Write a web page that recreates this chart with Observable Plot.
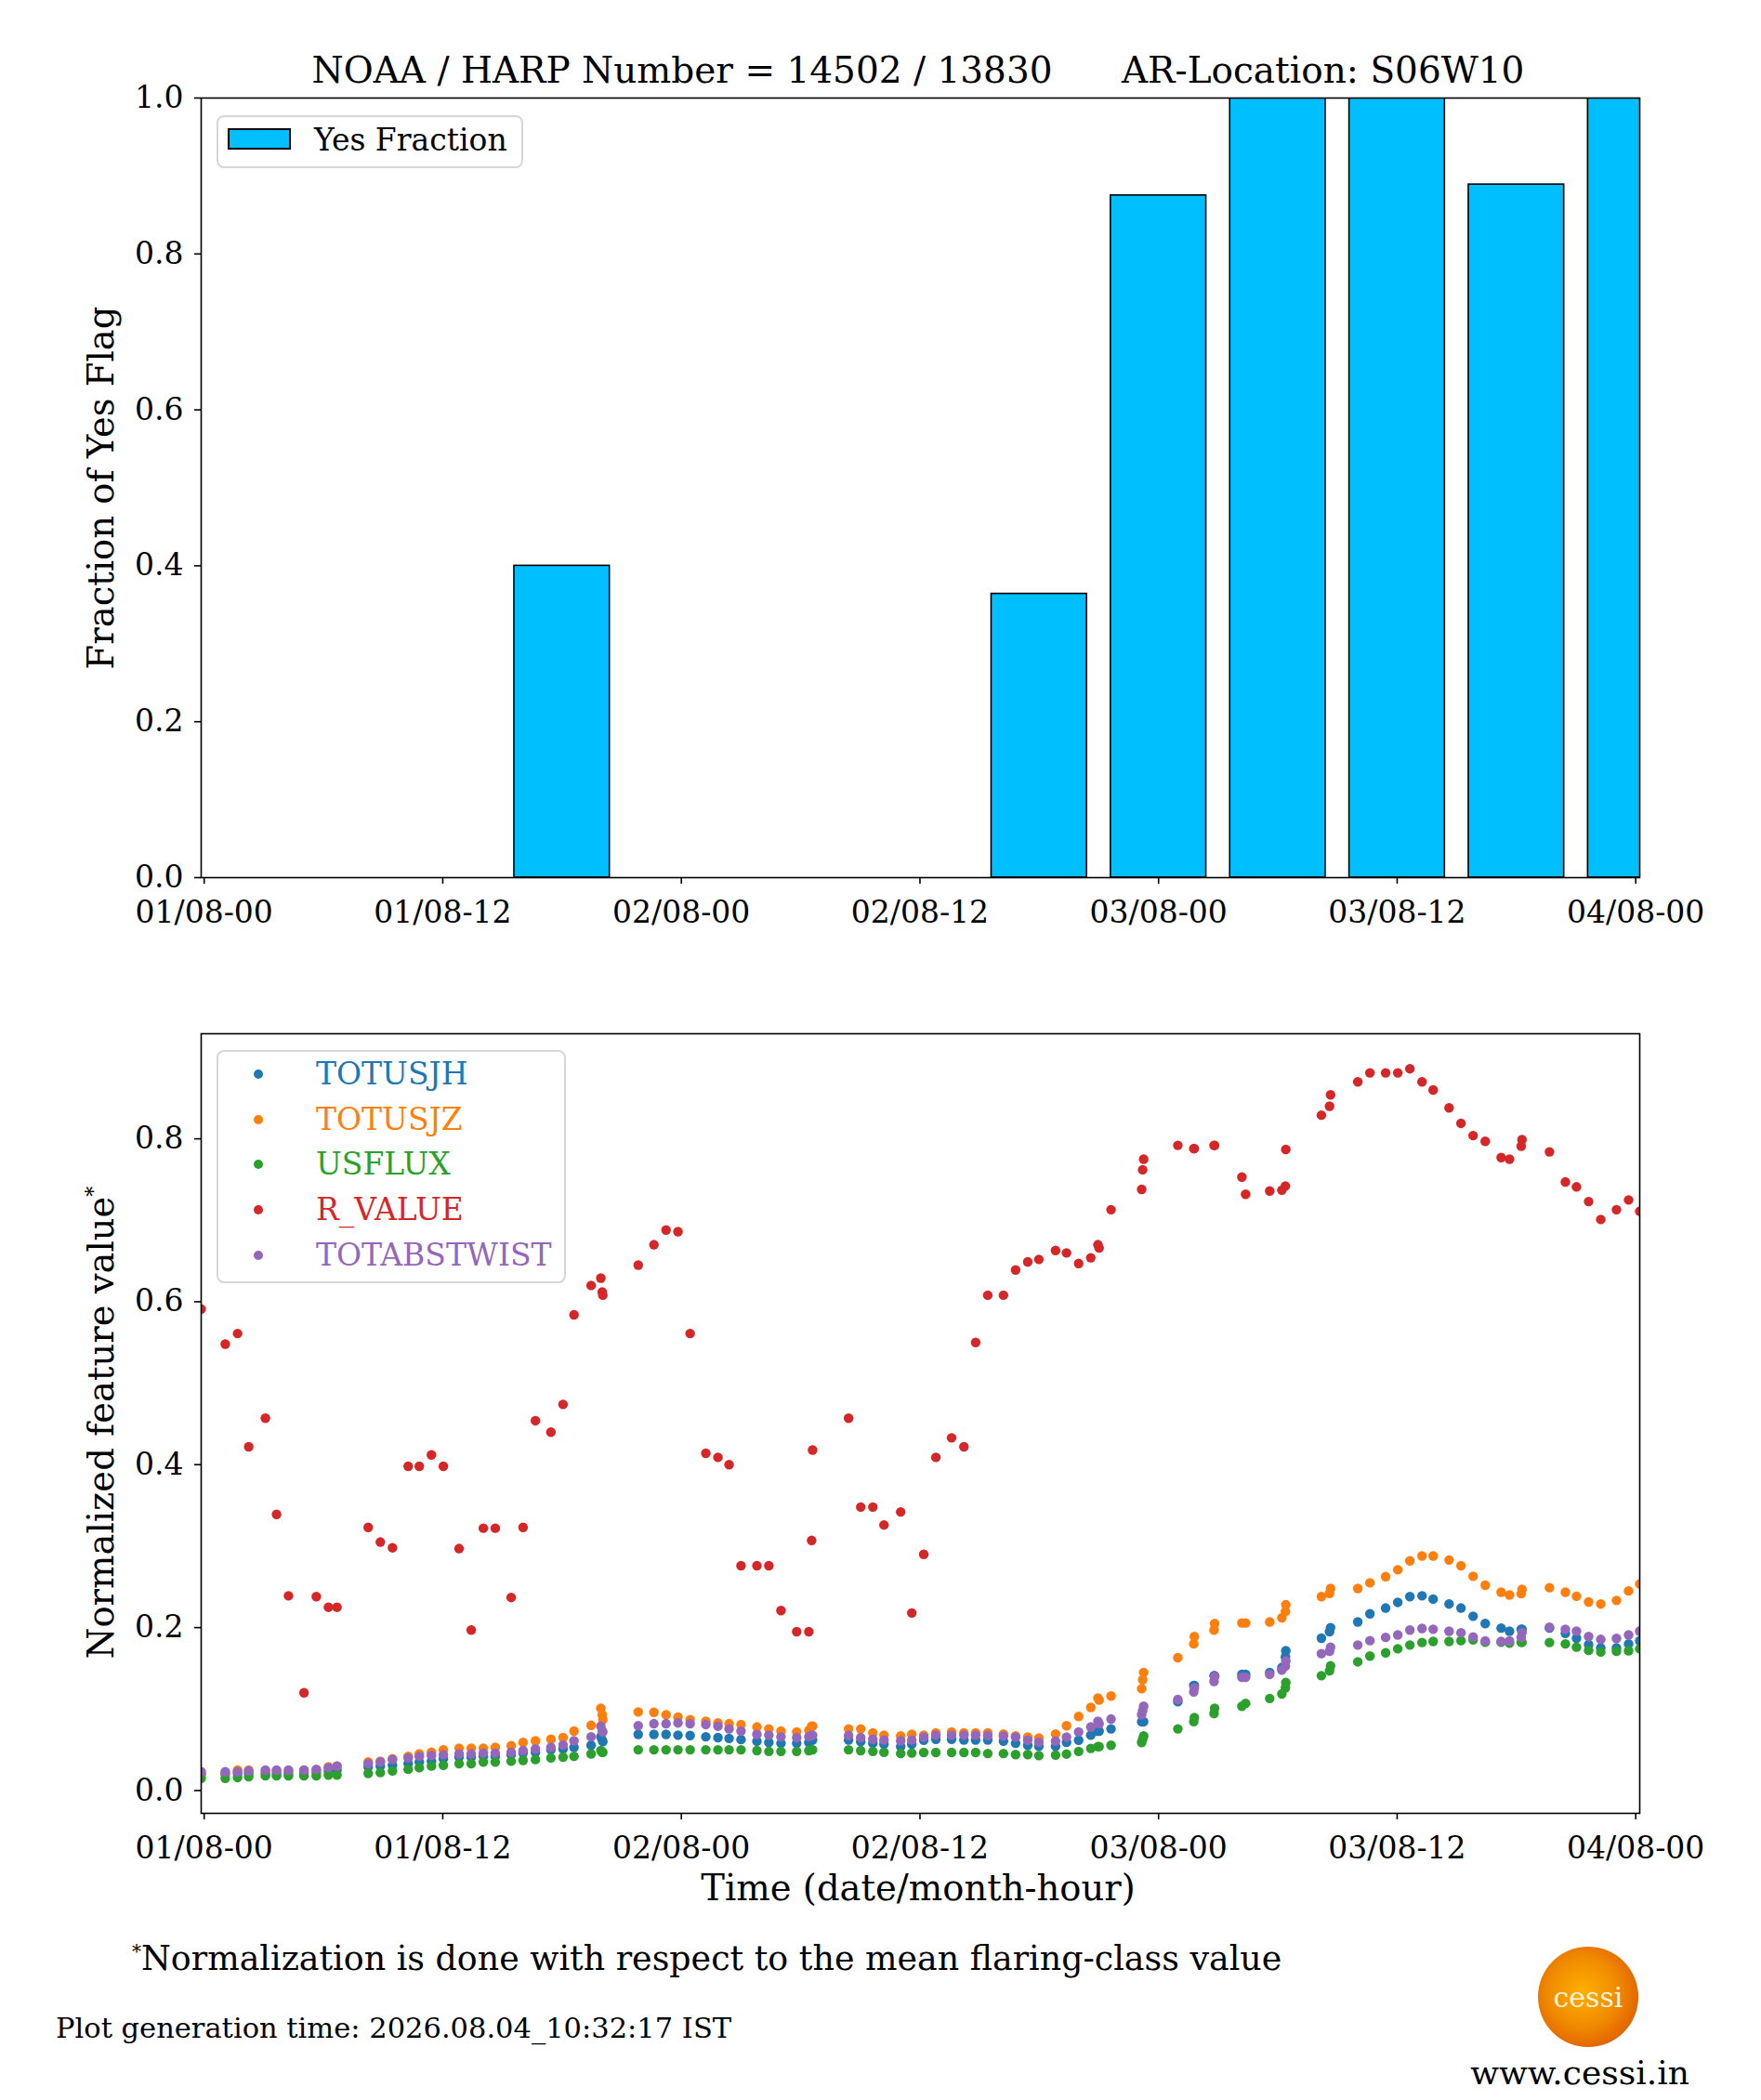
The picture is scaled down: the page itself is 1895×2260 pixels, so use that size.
<!DOCTYPE html>
<html>
<head>
<meta charset="utf-8">
<script src="https://cdn.jsdelivr.net/npm/d3@7"></script>
<script src="https://cdn.jsdelivr.net/npm/@observablehq/plot@0.6"></script>
<style>
  html, body { margin: 0; padding: 0; background: #fff; }
  #page { position: relative; width: 1895px; height: 2260px; background: #fff; font-family: "DejaVu Serif", serif; color: #000; overflow: hidden; }
  .abs { position: absolute; white-space: pre; }
  .ctr { position: absolute; white-space: pre; transform: translate(-50%, -50%); }
  .rot { position: absolute; white-space: nowrap; transform: translate(-50%, -50%) rotate(-90deg); }
  .legend { position: absolute; border: 2px solid #d6d6d6; border-radius: 8px; background: rgba(255,255,255,0.8); box-sizing: border-box; }
  .logo { position: absolute; border-radius: 50%; background: radial-gradient(circle at 45% 45%, #ffb000 0%, #f08a00 45%, #e05a00 80%, #c84000 100%); }
</style>
</head>
<body>
<div id="page"></div>
<script>
// ---------- data ----------
const barCenters = [0, 6, 12, 18, 24, 30, 36, 42, 48, 54, 60, 66, 72]; // hours from 01/08-00
const yesFraction = [0, 0, 0, 0.40, 0, 0, 0, 0.364, 0.875, 1.0, 1.0, 0.889, 1.0];

const hours = [
  -0.15, 1.06, 1.68, 2.24, 3.08, 3.64, 4.24, 5.02, 5.64, 6.25, 6.68,
  8.25, 8.86, 9.47, 10.26, 10.82, 11.43, 12.03, 12.82, 13.43, 14.04, 14.64,
  15.44, 16.04, 16.66, 17.44, 18.05, 18.60, 19.46, 19.95, 20.02, 20.05,
  21.83, 22.62, 23.23, 23.83, 24.44, 25.23, 25.84, 26.40, 27.00, 27.80, 28.40,
  29.01, 29.80, 30.41, 30.55, 30.60, 32.41, 33.02, 33.63, 34.19, 35.03, 35.59,
  36.19, 36.80, 37.59, 38.21, 38.80, 39.41, 40.20, 40.81, 41.42, 41.98, 42.82,
  43.37, 43.98, 44.59, 44.95, 45.01, 45.61, 47.15, 47.20, 47.25, 48.97, 49.77,
  49.80, 50.79, 50.82, 52.19, 52.38, 53.59, 54.20, 54.38, 54.40, 56.19, 56.60,
  56.65, 58.02, 58.63, 59.42, 60.03, 60.64, 61.25, 61.81, 62.61, 63.21, 63.82,
  64.43, 65.23, 65.65, 66.24, 66.28, 67.66, 68.46, 69.02, 69.63, 70.24, 71.03,
  71.64, 72.20
];
const rValue = [
  0.591, 0.548, 0.561, 0.422, 0.457, 0.339, 0.239, 0.120, 0.238, 0.225, 0.225,
  0.323, 0.305, 0.298, 0.398, 0.398, 0.412, 0.398, 0.297, 0.197, 0.322, 0.322,
  0.237, 0.323, 0.454, 0.440, 0.474, 0.584, 0.620, 0.629, 0.612, 0.608,
  0.645, 0.670, 0.688, 0.686, 0.561, 0.414, 0.409, 0.400, 0.276, 0.276, 0.276,
  0.221, 0.195, 0.195, 0.307, 0.418, 0.457, 0.348, 0.348, 0.326, 0.342, 0.218,
  0.290, 0.409, 0.433, 0.422, 0.550, 0.608, 0.608, 0.639, 0.649, 0.652, 0.663,
  0.660, 0.647, 0.654, 0.670, 0.666, 0.713, 0.738, 0.762, 0.775, 0.792, 0.788,
  0.788, 0.792, 0.792, 0.753, 0.732, 0.736, 0.737, 0.742, 0.787, 0.829, 0.840,
  0.854, 0.870, 0.881, 0.881, 0.881, 0.886, 0.870, 0.860, 0.838, 0.819, 0.804,
  0.797, 0.777, 0.775, 0.791, 0.799, 0.784, 0.747, 0.741, 0.723, 0.701, 0.713,
  0.725, 0.711
];
const totusjh = [
  0.020, 0.020, 0.021, 0.021, 0.021, 0.021, 0.021, 0.022, 0.022, 0.024, 0.025,
  0.029, 0.030, 0.031, 0.033, 0.035, 0.036, 0.039, 0.041, 0.041, 0.042, 0.042,
  0.044, 0.046, 0.047, 0.050, 0.051, 0.053, 0.0555, 0.066, 0.062, 0.060,
  0.069, 0.069, 0.069, 0.068, 0.0675, 0.066, 0.065, 0.064, 0.0625, 0.0605, 0.059,
  0.058, 0.058, 0.059, 0.062, 0.062, 0.062, 0.060, 0.058, 0.057, 0.054, 0.057,
  0.0618, 0.063, 0.063, 0.062, 0.062, 0.062, 0.0606, 0.058, 0.0555, 0.0543, 0.0543,
  0.0593, 0.0618, 0.068, 0.073, 0.073, 0.0757, 0.0845, 0.0845, 0.0845, 0.109, 0.129,
  0.129, 0.141, 0.141, 0.1426, 0.1426, 0.145, 0.151, 0.164, 0.1716, 0.187, 0.195,
  0.200, 0.207, 0.217, 0.224, 0.231, 0.238, 0.239, 0.235, 0.229, 0.224, 0.214,
  0.205, 0.1994, 0.1956, 0.198, 0.198, 0.1994, 0.193, 0.187, 0.179, 0.175, 0.175,
  0.180, 0.1836
];
const totusjz = [
  0.021, 0.021, 0.025, 0.025, 0.024, 0.024, 0.024, 0.025, 0.025, 0.029, 0.030,
  0.035, 0.036, 0.039, 0.042, 0.045, 0.047, 0.050, 0.052, 0.052, 0.052, 0.053,
  0.055, 0.059, 0.061, 0.063, 0.065, 0.073, 0.080, 0.101, 0.093, 0.087,
  0.0965, 0.096, 0.093, 0.090, 0.087, 0.085, 0.083, 0.082, 0.081, 0.078, 0.0757,
  0.073, 0.072, 0.074, 0.079, 0.079, 0.0757, 0.0757, 0.0707, 0.068, 0.067, 0.069,
  0.068, 0.0707, 0.072, 0.0707, 0.0707, 0.0707, 0.0694, 0.0669, 0.0656, 0.0644, 0.0694,
  0.0795, 0.0909, 0.102, 0.1136, 0.111, 0.116, 0.125, 0.136, 0.145, 0.163, 0.180,
  0.189, 0.197, 0.205, 0.2057, 0.2057, 0.207, 0.212, 0.2196, 0.228, 0.238, 0.242,
  0.248, 0.248, 0.255, 0.2625, 0.271, 0.282, 0.288, 0.288, 0.283, 0.276, 0.263,
  0.252, 0.2435, 0.240, 0.2416, 0.247, 0.249, 0.2435, 0.2385, 0.2315, 0.229, 0.2334,
  0.245, 0.2536
];
const usflux = [
  0.015, 0.015, 0.016, 0.017, 0.018, 0.018, 0.018, 0.018, 0.018, 0.019, 0.019,
  0.021, 0.022, 0.024, 0.026, 0.028, 0.030, 0.031, 0.033, 0.033, 0.035, 0.035,
  0.036, 0.037, 0.038, 0.040, 0.041, 0.042, 0.045, 0.049, 0.047, 0.047,
  0.050, 0.050, 0.050, 0.050, 0.050, 0.050, 0.050, 0.050, 0.050, 0.049, 0.048,
  0.048, 0.048, 0.049, 0.050, 0.050, 0.050, 0.049, 0.048, 0.047, 0.0454, 0.046,
  0.0467, 0.0467, 0.0467, 0.0467, 0.0467, 0.0454, 0.0454, 0.0442, 0.0442, 0.0429, 0.0435,
  0.0448, 0.048, 0.0517, 0.054, 0.054, 0.0555, 0.059, 0.063, 0.067, 0.0757, 0.0845,
  0.0896, 0.0946, 0.101, 0.1035, 0.107, 0.113, 0.1186, 0.126, 0.1325, 0.141, 0.147,
  0.153, 0.158, 0.165, 0.169, 0.174, 0.1786, 0.1817, 0.183, 0.183, 0.184, 0.185,
  0.182, 0.182, 0.181, 0.182, 0.182, 0.1817, 0.180, 0.176, 0.172, 0.170, 0.171,
  0.1716, 0.174
];
const totabstwist = [
  0.023, 0.023, 0.023, 0.024, 0.025, 0.025, 0.025, 0.025, 0.026, 0.028, 0.030,
  0.033, 0.035, 0.038, 0.040, 0.042, 0.043, 0.044, 0.045, 0.045, 0.046, 0.046,
  0.047, 0.049, 0.051, 0.053, 0.056, 0.061, 0.066, 0.079, 0.073, 0.072,
  0.0795, 0.082, 0.082, 0.083, 0.082, 0.081, 0.079, 0.0757, 0.073, 0.069, 0.068,
  0.066, 0.065, 0.066, 0.068, 0.068, 0.0675, 0.065, 0.063, 0.062, 0.061, 0.062,
  0.0656, 0.068, 0.068, 0.068, 0.068, 0.0675, 0.0669, 0.0656, 0.0618, 0.0593, 0.0606,
  0.0656, 0.0719, 0.078, 0.085, 0.082, 0.0877, 0.093, 0.098, 0.1035, 0.1117, 0.121,
  0.126, 0.134, 0.140, 0.139, 0.139, 0.1426, 0.148, 0.1527, 0.159, 0.168, 0.171,
  0.176, 0.1786, 0.184, 0.188, 0.191, 0.197, 0.199, 0.198, 0.1956, 0.1937, 0.1886,
  0.1836, 0.183, 0.1836, 0.188, 0.194, 0.2006, 0.198, 0.1956, 0.189, 0.1855, 0.1867,
  0.191, 0.1956
];

const seriesNames = ["TOTUSJH", "TOTUSJZ", "USFLUX", "R_VALUE", "TOTABSTWIST"];
const seriesValues = [totusjh, totusjz, usflux, rValue, totabstwist];
const seriesColors = ["#1f77b4", "#ff7f0e", "#2ca02c", "#d62728", "#9467bd"];

const tickHours = [0, 12, 24, 36, 48, 60, 72];
const xDomainHours = [-0.15, 72.2];
const topYTicks = [0, 0.2, 0.4, 0.6, 0.8, 1.0];
const bottomYTicks = [0, 0.2, 0.4, 0.6, 0.8];

const titleText = "NOAA / HARP Number = 14502 / 13830      AR-Location: S06W10";

// ---------- helpers ----------
const base = Date.UTC(2026, 7, 1, 0, 0, 0);
const toDate = h => new Date(base + h * 3600e3);
const fmt = d3.utcFormat("%d/%m-%H");
const FONT = "DejaVu Serif";
const TICKFONT = 33;
const page = document.getElementById("page");

function addDiv(cls, css, html) {
  const el = document.createElement("div");
  el.className = cls;
  Object.assign(el.style, css);
  el.innerHTML = html;
  page.appendChild(el);
  return el;
}

function xAxisMark() {
  return Plot.axisX({
    ticks: tickHours.map(toDate),
    tickFormat: fmt,
    tickSize: 7,
    tickPadding: 18,
    fontSize: TICKFONT,
    strokeWidth: 1.6,
    label: null
  });
}
function yAxisMark(ticks) {
  return Plot.axisY({
    ticks,
    tickFormat: d3.format(".1f"),
    tickSize: 7,
    tickPadding: 12,
    fontSize: TICKFONT,
    strokeWidth: 1.6,
    label: null
  });
}

// ---------- top chart ----------
const topChart = Plot.plot({
  width: 1895,
  height: 1010,
  marginLeft: 216,
  marginRight: 131,
  marginTop: 105,
  marginBottom: 66,
  style: { fontFamily: FONT, fontSize: TICKFONT + "px", color: "black", background: "transparent", overflow: "visible" },
  x: { type: "utc", domain: xDomainHours.map(toDate) },
  y: { domain: [0, 1] },
  marks: [
    Plot.rectY(barCenters, {
      x1: h => toDate(h - 2.4),
      x2: h => toDate(h + 2.4),
      y: (h, i) => yesFraction[i],
      fill: "#00bfff",
      stroke: "black",
      strokeWidth: 1.6,
      clip: true
    }),
    xAxisMark(),
    yAxisMark(topYTicks),
    Plot.frame({ stroke: "black", strokeWidth: 1.6 })
  ]
});
topChart.style.position = "absolute";
topChart.style.left = "0px";
topChart.style.top = "0px";
page.appendChild(topChart);

// ---------- bottom chart ----------
const dotMarks = seriesValues.map((vals, k) =>
  Plot.dot(hours, {
    x: h => toDate(h),
    y: (h, i) => vals[i],
    r: 5.2,
    fill: seriesColors[k],
    stroke: "none",
    clip: true
  })
);

const bottomChart = Plot.plot({
  width: 1895,
  height: 980,
  marginLeft: 216,
  marginRight: 131,
  marginTop: 72,
  marginBottom: 69,
  style: { fontFamily: FONT, fontSize: TICKFONT + "px", color: "black", background: "transparent", overflow: "visible" },
  x: { type: "utc", domain: xDomainHours.map(toDate) },
  y: { domain: [-0.028, 0.929] },
  marks: [
    ...dotMarks,
    xAxisMark(),
    yAxisMark(bottomYTicks),
    Plot.frame({ stroke: "black", strokeWidth: 1.6 })
  ]
});
bottomChart.style.position = "absolute";
bottomChart.style.left = "0px";
bottomChart.style.top = "1040px";
page.appendChild(bottomChart);

// ---------- texts ----------
addDiv("ctr", { left: "988px", top: "75px", fontSize: "39px" }, titleText);
addDiv("rot", { left: "108px", top: "525px", fontSize: "38.5px" }, "Fraction of Yes Flag");
addDiv("rot", { left: "108px", top: "1531px", fontSize: "38.5px" }, "Normalized feature value<sup style=\"font-size:22px\">*</sup>");
addDiv("ctr", { left: "988px", top: "2031px", fontSize: "38.5px" }, "Time (date/month-hour)");

// top legend
addDiv("legend", { left: "233px", top: "124px", width: "330px", height: "57px" }, "");
addDiv("abs", { left: "245px", top: "138px", width: "68px", height: "23px", background: "#00bfff", border: "2px solid #000", boxSizing: "border-box" }, "");
addDiv("abs", { left: "338px", top: "131px", fontSize: "33px", lineHeight: "40px" }, "Yes Fraction");

// bottom legend
addDiv("legend", { left: "233px", top: "1130px", width: "376px", height: "251px" }, "");
const rowsY = [1156, 1205, 1253, 1302, 1351];
seriesNames.forEach((name, k) => {
  addDiv("abs", { left: (278 - 5) + "px", top: (rowsY[k] - 5) + "px", width: "10px", height: "10px", borderRadius: "50%", background: seriesColors[k] }, "");
  addDiv("abs", { left: "340px", top: (rowsY[k] - 20) + "px", fontSize: "33px", lineHeight: "40px", color: seriesColors[k] }, name);
});

// footer
addDiv("abs", { left: "142px", top: "2078px", fontSize: "36.4px", lineHeight: "44px" }, "<sup style=\"font-size:20px\">*</sup>Normalization is done with respect to the mean flaring-class value");
addDiv("abs", { left: "60px", top: "2164px", fontSize: "30.5px", lineHeight: "38px" }, "Plot generation time: 2026.08.04_10:32:17 IST");
addDiv("logo", { left: "1655px", top: "2095px", width: "108px", height: "108px" }, "");
addDiv("ctr", { left: "1709px", top: "2149px", fontSize: "30px", color: "#fff2dc" }, "cessi");
addDiv("ctr", { left: "1700px", top: "2230px", fontSize: "36px" }, "www.cessi.in");
</script>
</body>
</html>
